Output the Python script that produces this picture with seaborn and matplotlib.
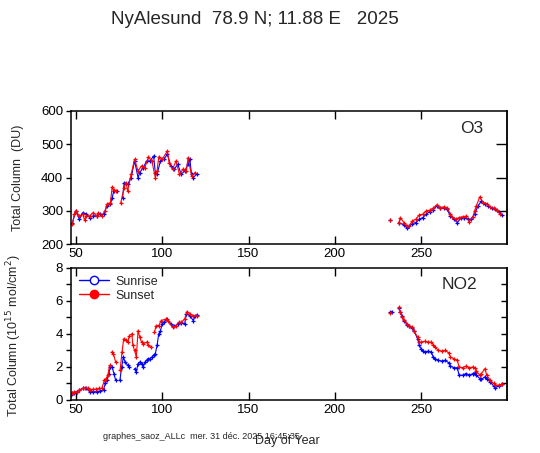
import matplotlib
matplotlib.use("Agg")
import matplotlib.pyplot as plt
from matplotlib.lines import Line2D
from matplotlib.ticker import MultipleLocator, NullFormatter
import seaborn as sns
import numpy as np
import pandas as pd

nan = np.nan

# O3 sunrise (blue)
o3_rise_day = [48, 50, 52, 54, 56, 58, 60, 62, 64, 66, 68, 70, 71, 72, 74, nan,
               77, 78, 80, 82, 84, 86, 87, 89, 91, 93, 95, 96, 97, 99, 101, 103, 105,
               107, 109, 111, 113, 115, 116, 117, 118, 120, nan,
               232, nan, 237, 240, 242, 245, 247, 249, 251, 253, 255, 257, 259, 261,
               263, 265, 267, 269, 271, 273, 275, 277, 279, 281, 283, 285, 287, 289,
               291, 293, 295, 297]
o3_rise_val = [265, 300, 275, 295, 290, 280, 285, 285, 290, 290, 315, 320, 340, 360, 360, nan,
               340, 385, 380, 400, 450, 400, 415, 430, 450, 450, 465, 415, 410, 450, 455, 470, 435,
               425, 440, 410, 420, 440, 455, 410, 400, 410, nan,
               273, nan, 265, 258, 248, 262, 265, 275, 280, 290, 298, 303, 315, 308,
               308, 305, 285, 275, 265, 278, 280, 275, 275, 290, 315, 330, 322, 315,
               308, 305, 298, 288]

# O3 sunset (red)
o3_set_day = [48, 49, 50, 52, 54, 55, 56, 58, 60, 62, 63, 65, 67, 68, 70, 71, 72, 73, nan,
              76, 78, 79, 80, 82, 84, 86, 88, 90, 92, 94, 96, 97, 98, 100, 103, 104,
              106, 108, 110, 112, 114, 115, 117, 119, nan,
              232, nan, 237, 238, 240, 242, 243, 245, 247, 249, 251, 253, 255, 257, 259,
              261, 263, 265, 267, 268, 270, 272, 274, 276, 278, 280, 281, 282, 284, 286,
              288, 290, 292, 294, 296]
o3_set_val = [260, 290, 300, 285, 290, 272, 285, 285, 295, 285, 295, 285, 300, 320, 325, 372, 362, 360, nan,
              325, 370, 385, 360, 410, 455, 420, 435, 430, 462, 450, 400, 420, 462, 455, 480, 445,
              425, 450, 410, 425, 420, 460, 405, 415, nan,
              273, nan, 263, 280, 265, 255, 255, 270, 275, 288, 290, 300, 302, 308, 318,
              310, 312, 310, 290, 282, 275, 280, 282, 284, 268, 282, 300, 315, 342, 325,
              322, 312, 308, 302, 290]

# NO2 sunrise (blue)
no2_rise_day = [47, 48, 49, 50.5, 52, 54, 56, 58, 60, 62, 64, 66, 67, 68, 69, 70, 71, 72, 73, nan,
                75.5, 76.5, 77.5, 78.5, 80, 81, nan,
                84, 85, 86, 87, 88, 89, 90, 91, 92, 93, 94, 95, 96, 97, 98, 99, 100, 101,
                103, 105, 107, 109, 111, 113, 114, 116, 118, 119, 120, nan,
                232, 233, nan, 237, 238, 239, 240, 242, 243, 245, 246, 248, 249, 250, 251,
                252, 254, 256, 257, 258, 260, 262, 264, 266, 267, 269, 271, 272, 274, 276,
                278, 280, 281, 282, 284, 285, 287, 288, 290, 292, 293, 295, 297]
no2_rise_val = [0.3, 0.4, 0.4, 0.5, 0.6, 0.7, 0.7, 0.5, 0.5, 0.5, 0.55, 0.6, 1.0, 1.2, 1.6, 2.0, 2.0, 1.6, 1.2, nan,
                1.2, 2.0, 2.6, 2.3, 2.1, 2.0, nan,
                1.9, 1.7, 2.2, 2.3, 2.2, 2.0, 2.3, 2.4, 2.5, 2.5, 2.6, 2.7, 2.8, 3.3, 4.0, 4.2, 4.6, 4.7,
                4.9, 4.6, 4.45, 4.6, 4.65, 4.6, 5.2, 5.1, 4.8, 5.05, 5.15, nan,
                5.3, 5.35, nan, 5.55, 5.35, 5.05, 4.8, 4.55, 4.45, 4.35, 4.15, 3.7, 3.3, 3.1, 2.95,
                2.9, 2.95, 2.9, 2.6, 2.5, 2.4, 2.35, 2.4, 2.25, 2.05, 1.95, 1.95, 1.5, 1.5, 1.6,
                1.5, 1.6, 1.65, 1.5, 1.3, 1.25, 1.4, 1.3, 1.1, 0.85, 0.75, 0.85, 0.95]

# NO2 sunset (red)
no2_set_day = [47, 48, 49, 50.5, 52, 54, 55.5, 57, 58, 60, 61.5, 63.5, 65, 66.5, 67.5, 68.5, 69.5, nan,
               70.7, 71.7, 73, nan,
               75.6, 76.7, 77.7, 79, 80, 81, 82.4, 83, 84, 85, 86, 87, 88, 89, 91, 92, 93.6, nan,
               95.5, 96.5, 98, 99.4, 102, 103.3, 106, 108, 109.5, 111, 113, 114.3, 116, 118, 120, nan,
               232, nan, 237, 238, 239, 240, 242, 243, 245, 246, 248, 249, 250, 252, 254, 256,
               257, 258, 260, 262, 264, 266, 267, 269, 271, 272, 274, 276, 278, 280, 281, 282,
               284, 285, 287, 288, 290, 292, 293, 295, 297]
no2_set_val = [0.35, 0.4, 0.5, 0.5, 0.6, 0.7, 0.75, 0.7, 0.6, 0.65, 0.65, 0.7, 0.7, 1.2, 1.3, 1.5, 2.1, nan,
               2.9, 2.8, 2.3, nan,
               1.8, 2.9, 3.7, 3.6, 3.5, 3.9, 4.0, 3.3, 3.0, 2.6, 4.2, 3.8, 3.5, 3.4, 3.5, 3.3, 3.2, nan,
               4.1, 4.5, 4.5, 4.8, 4.9, 4.8, 4.4, 4.5, 4.7, 4.7, 4.9, 5.35, 5.2, 5.1, 5.1, nan,
               5.25, nan, 5.6, 5.3, 5.0, 4.85, 4.6, 4.5, 4.4, 4.15, 3.8, 3.5, 3.5, 3.55, 3.5, 3.5,
               3.35, 3.2, 3.0, 2.95, 3.0, 2.85, 2.6, 2.5, 2.4, 2.0, 1.95, 2.05, 1.95, 2.0, 1.95, 1.75,
               1.5, 1.6, 1.9, 1.5, 1.2, 1.0, 0.9, 0.9, 0.95]

BLUE = "#0000ff"
RED = "#ff0000"


def to_frame(days, vals):
    df = pd.DataFrame({"day": days, "val": vals})
    df["seg"] = df["day"].isna().cumsum()
    return df.dropna().reset_index(drop=True)


def draw_series(ax, days, vals, color):
    df = to_frame(days, vals)
    sns.lineplot(data=df, x="day", y="val", units="seg", estimator=None, sort=False,
                 color=color, linewidth=0.8, marker="+", markersize=3.2,
                 markeredgewidth=0.9, markeredgecolor=color, ax=ax)


sns.set_style("ticks")
plt.rcParams["font.family"] = ["Liberation Sans", "DejaVu Sans"]

fig = plt.figure(figsize=(5.4, 4.53), dpi=100)
ax1 = fig.add_axes([0.131, 0.461, 0.807, 0.294])
ax2 = fig.add_axes([0.131, 0.117, 0.807, 0.292])

draw_series(ax1, o3_rise_day, o3_rise_val, BLUE)
draw_series(ax1, o3_set_day, o3_set_val, RED)
draw_series(ax2, no2_rise_day, no2_rise_val, BLUE)
draw_series(ax2, no2_set_day, no2_set_val, RED)

for ax in (ax1, ax2):
    ax.set_xlim(47, 299.5)
    ax.set_xticks([50, 100, 150, 200, 250])
    ax.set_xlabel("")
    ax.tick_params(axis="x", direction="in", top=True, bottom=True, length=6,
                   width=1, labelsize=9.5, pad=3, color="black", labelcolor="black")
    ax.tick_params(axis="y", which="both", left=True, right=False, direction="out",
                   width=1, length=3.5, color="black", labelsize=9.5, labelcolor="black", pad=2)
    for sp in ax.spines.values():
        sp.set_visible(True)
        sp.set_color("black")
        sp.set_linewidth(1.1)

ax1.set_ylim(200, 600)
ax1.set_yticks([200, 300, 400, 500, 600])
ax1.set_ylabel("Total Column  (DU)", fontsize=9)
ax1.yaxis.set_label_coords(-0.108, 0.5)
ax1.text(0.92, 0.865, "O3", transform=ax1.transAxes, fontsize=12.5, ha="center", va="center")
r1 = ax1.secondary_yaxis("right")
r1.set_yticks([300, 400, 500])
r1.yaxis.set_major_formatter(NullFormatter())
r1.tick_params(axis="y", direction="in", length=8, width=1, color="black")
r1.spines["right"].set_linewidth(1.1)

ax2.set_ylim(0, 8)
ax2.set_yticks([0, 2, 4, 6, 8])
ax2.yaxis.set_minor_locator(MultipleLocator(1))
ax2.set_ylabel("Total Column (10$^{15}$ mol/cm$^2$)", fontsize=9)
ax2.yaxis.set_label_coords(-0.108, 0.49)
ax2.text(0.893, 0.87, "NO2", transform=ax2.transAxes, fontsize=12.5, ha="center", va="center")
r2 = ax2.secondary_yaxis("right")
r2.set_yticks([1, 2, 3, 4, 5, 6, 7])
r2.yaxis.set_major_formatter(NullFormatter())
r2.tick_params(axis="y", direction="in", length=4, width=1, color="black")
r2.spines["right"].set_linewidth(1.1)

handles = [
    Line2D([], [], color=BLUE, lw=1, marker="o", markersize=6, markerfacecolor="white",
           markeredgecolor=BLUE),
    Line2D([], [], color=RED, lw=1, marker="o", markersize=6, markerfacecolor=RED,
           markeredgecolor=RED),
]
ax2.legend(handles, ["Sunrise", "Sunset"], loc="upper left", frameon=False, fontsize=9,
           handlelength=2.4, borderaxespad=0.25, labelspacing=0.15, handletextpad=0.5)

fig.text(0.472, 0.958, "NyAlesund  78.9 N; 11.88 E   2025", fontsize=13.5,
         ha="center", va="center")
fig.text(0.19, 0.036, "graphes_saoz_ALLc  mer. 31 déc. 2025 16:45:35", fontsize=6.5,
         ha="left", va="center")
fig.text(0.532, 0.027, "Day of Year", fontsize=9, ha="center", va="center")

fig.savefig("out.png", dpi=100, facecolor="white")
